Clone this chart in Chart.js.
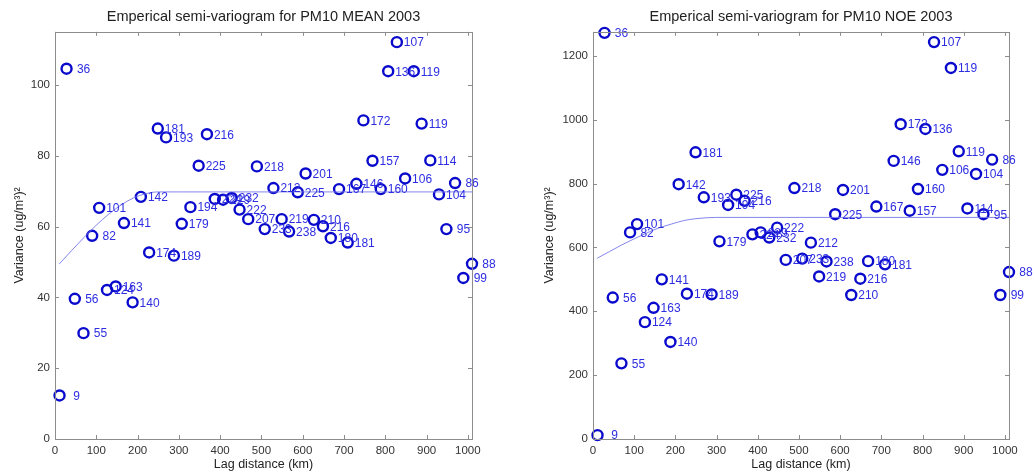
<!DOCTYPE html>
<html>
<head>
<meta charset="utf-8">
<script src="https://cdn.jsdelivr.net/npm/chart.js@4.4.0/dist/chart.umd.min.js"></script>
<style>
  body { margin: 0; background: #fff; }
  .panel { position: absolute; top: 0; width: 517px; height: 472px; }
</style>
</head>
<body>
<div class="panel" style="left:0"><canvas id="meanChart"></canvas></div>
<div class="panel" style="left:517px"><canvas id="noeChart"></canvas></div>
<script>
// lag bins (km) and number of station pairs per bin
const lagKm = [11, 28, 48, 69, 90, 107, 126, 147, 167, 188, 208, 228, 249, 269, 288, 307, 328, 348, 368,
  387, 407, 428, 447, 468, 489, 508, 529, 549, 567, 588, 607, 627, 649, 668, 688, 709, 730, 747, 769,
  789, 807, 828, 848, 869, 888, 909, 930, 948, 969, 989, 1010];
const pairCounts = [9, 36, 56, 55, 82, 101, 124, 163, 141, 140, 142, 174, 181, 193, 189, 179, 194, 225, 216,
  224, 229, 232, 222, 207, 218, 233, 212, 219, 238, 225, 201, 210, 216, 180, 167, 181, 146, 172, 157,
  160, 136, 107, 106, 119, 119, 114, 104, 95, 86, 99, 88];

// semi-variance, PM10 MEAN 2003
const gammaMean = [12.3, 104.6, 39.6, 29.9, 57.4, 65.3, 42.1, 43.1, 61.0, 38.6, 68.4, 52.7, 87.7, 85.2, 51.8, 60.8, 65.5, 77.2, 86.1,
  67.8, 67.6, 68.1, 64.8, 62.1, 77.0, 59.3, 70.9, 62.1, 58.6, 69.7, 75.0, 61.9, 60.1, 56.8, 70.6, 55.5, 72.1, 90.0, 78.6,
  70.6, 103.9, 112.1, 73.6, 103.9, 89.1, 78.7, 69.1, 59.3, 72.3, 45.5, 49.5];
// semi-variance, PM10 NOE 2003
const gammaNoe = [12, 1272, 443, 237, 647, 673, 366, 411, 500, 304, 798, 455, 898, 757, 453, 619, 733, 765, 746,
  641, 647, 631, 662, 561, 786, 565, 615, 509, 556, 704, 780, 451, 502, 557, 728, 547, 871, 986, 715,
  783, 971, 1243, 843, 1162, 901, 722, 830, 704, 875, 451, 523];

// fitted model curves
const fitLag = [10, 40, 70, 100, 130, 160, 190, 220, 250, 300, 1010];
const fitMean = [49.4, 53.2, 56.9, 60.4, 63.5, 66.1, 68.1, 69.3, 69.8, 69.8, 69.8];
const fitNoe = [566, 587, 608, 627, 645, 661, 673, 684, 690, 694, 694];

const xTicks = [0, 100, 200, 300, 400, 500, 600, 700, 800, 900, 1000];
const yTicksMean = [0, 20, 40, 60, 80, 100];
const yTicksNoe = [0, 200, 400, 600, 800, 1000, 1200];

const FONT = "'Liberation Sans', Arial, sans-serif";

const frameAndLabels = {
  id: "frameAndLabels",
  afterDatasetsDraw(chart) {
    const ctx = chart.ctx;
    const meta = chart.getDatasetMeta(1);
    ctx.save();
    ctx.fillStyle = "rgb(45,45,225)";
    ctx.font = "12px " + FONT;
    ctx.textAlign = "left";
    ctx.textBaseline = "middle";
    meta.data.forEach((pt, i) => {
      ctx.fillText(String(pairCounts[i]).padStart(3, " "), pt.x + 7, pt.y + 1);
    });
    ctx.restore();
  },
  afterDraw(chart) {
    const { ctx, chartArea: a, scales } = chart;
    ctx.save();
    ctx.strokeStyle = "#8c8c8c";
    ctx.lineWidth = 1;
    ctx.strokeRect(Math.round(a.left) + 0.5, Math.round(a.top) + 0.5,
      Math.round(a.right - a.left), Math.round(a.bottom - a.top));
    ctx.beginPath();
    scales.x.ticks.forEach(t => {
      const px = Math.round(scales.x.getPixelForValue(t.value)) + 0.5;
      ctx.moveTo(px, a.bottom); ctx.lineTo(px, a.bottom - 4);
      ctx.moveTo(px, a.top); ctx.lineTo(px, a.top + 4);
    });
    scales.y.ticks.forEach(t => {
      const py = Math.round(scales.y.getPixelForValue(t.value)) + 0.5;
      ctx.moveTo(a.left, py); ctx.lineTo(a.left + 4, py);
      ctx.moveTo(a.right, py); ctx.lineTo(a.right - 4, py);
    });
    ctx.stroke();
    ctx.restore();
  }
};

function makeChart(id, title, gamma, fit, yMax, yTicks, yWidth, padRight, yTitlePad) {
  return new Chart(document.getElementById(id), {
    type: "scatter",
    data: {
      datasets: [
        {
          type: "line",
          data: fitLag.map((x, i) => ({ x: x, y: fit[i] })),
          borderColor: "rgba(120,120,235,0.9)",
          borderWidth: 1,
          pointRadius: 0,
          cubicInterpolationMode: "monotone",
          fill: false
        },
        {
          data: lagKm.map((x, i) => ({ x: x, y: gamma[i] })),
          pointStyle: "circle",
          pointRadius: 5,
          pointBorderWidth: 2.4,
          borderColor: "rgb(10,10,205)",
          backgroundColor: "rgba(0,0,0,0)",
          clip: false
        }
      ]
    },
    options: {
      responsive: false,
      animation: false,
      devicePixelRatio: 1,
      layout: { padding: { left: 0, right: padRight, top: 0, bottom: 0 } },
      plugins: {
        legend: { display: false },
        tooltip: { enabled: false },
        title: {
          display: true,
          fullSize: false,
          text: title,
          color: "#222",
          font: { family: FONT, size: 14.5, weight: "normal" },
          padding: { top: 8, bottom: 6.5 }
        }
      },
      scales: {
        x: {
          type: "linear",
          min: 0,
          max: 1010,
          afterBuildTicks: s => { s.ticks = xTicks.map(v => ({ value: v })); },
          afterFit: s => { s.height = 33; },
          grid: { display: false, drawTicks: false },
          border: { display: false },
          ticks: { color: "#333", font: { family: FONT, size: 11.5 }, padding: 5, maxRotation: 0, callback: v => String(v) },
          title: { display: true, text: "Lag distance (km)", color: "#222", font: { family: FONT, size: 12.5 }, padding: 0 }
        },
        y: {
          type: "linear",
          min: 0,
          max: yMax,
          afterBuildTicks: s => { s.ticks = yTicks.map(v => ({ value: v })); },
          afterFit: s => { s.width = yWidth; },
          grid: { display: false, drawTicks: false },
          border: { display: false },
          ticks: { color: "#333", font: { family: FONT, size: 11.5 }, padding: 5, callback: v => String(v) },
          title: { display: true, text: "Variance (ug/m³)²", color: "#222", font: { family: FONT, size: 12.5 }, padding: { top: yTitlePad, bottom: 4 } }
        }
      }
    },
    plugins: [frameAndLabels]
  });
}

document.getElementById("meanChart").width = 517;
document.getElementById("meanChart").height = 472;
document.getElementById("noeChart").width = 517;
document.getElementById("noeChart").height = 472;

makeChart("meanChart", "Emperical semi-variogram for PM10 MEAN 2003", gammaMean, fitMean, 115, yTicksMean, 55, 45, 12);
makeChart("noeChart", "Emperical semi-variogram for PM10 NOE 2003", gammaNoe, fitNoe, 1275, yTicksNoe, 76, 25, 25);
</script>
</body>
</html>
